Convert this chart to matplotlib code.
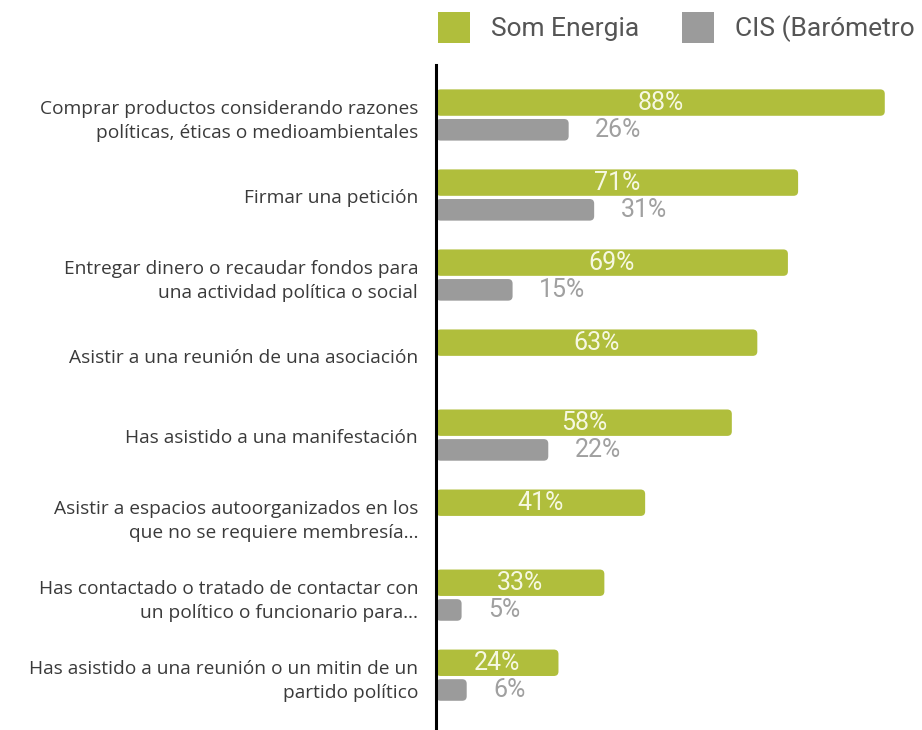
import matplotlib.pyplot as plt
from matplotlib.patches import FancyBboxPatch, Patch
import numpy as np

categorias = [
    'Comprar productos considerando razones\npolíticas, éticas o medioambientales',
    'Firmar una petición',
    'Entregar dinero o recaudar fondos para\nuna actividad política o social',
    'Asistir a una reunión de una asociación',
    'Has asistido a una manifestación',
    'Asistir a espacios autoorganizados en los\nque no se requiere membresía…',
    'Has contactado o tratado de contactar con\nun político o funcionario para…',
    'Has asistido a una reunión o un mitin de un\npartido político',
]
som_energia = [88, 71, 69, 63, 58, 41, 33, 24]
cis = [26, 31, 15, None, 22, None, 5, 6]
series = ['Som Energia', 'CIS (Barómetro']

VERDE = '#b0be3c'
GRIS = '#9b9b9b'

fig = plt.figure(figsize=(9.22, 7.3), dpi=100)
ax = fig.add_axes([0.473, 0.0, 0.527, 0.911])

y = np.arange(len(categorias))
y_verde = y - 0.17
y_gris = y + 0.17
cis_vals = np.array([np.nan if v is None else v for v in cis], dtype=float)


def barras_redondeadas(ax, ys, vals, h, color):
    # barh normal y luego se cambia por una caja redondeada
    bars = ax.barh(ys, np.nan_to_num(vals), height=h, color=color)
    for b, v in zip(bars, vals):
        b.set_visible(False)
        if np.isnan(v):
            continue
        p = FancyBboxPatch((b.get_x(), b.get_y()), b.get_width(), b.get_height(),
                           boxstyle='round,pad=0,rounding_size=0.9',
                           mutation_aspect=1 / 16, facecolor=color,
                           edgecolor='none', zorder=2)
        ax.add_patch(p)
    return bars


barras_redondeadas(ax, y_verde, np.array(som_energia, dtype=float), 0.33, VERDE)
barras_redondeadas(ax, y_gris, cis_vals, 0.27, GRIS)

# etiquetas de valores
for yy, v in zip(y_verde, som_energia):
    ax.text(v / 2, yy, f'{v}%', ha='center', va='center', color='#f6f8e2',
            fontsize=18, family='Roboto', zorder=3)
for yy, v in zip(y_gris, cis_vals):
    if np.isnan(v):
        continue
    ax.annotate(f'{int(v)}%', (v, yy), xytext=(19, 0), textcoords='offset points',
                ha='left', va='center', color='#a0a0a0', fontsize=18, family='Roboto')

ax.set_xlim(0, 95.3)
ax.set_ylim(7.67, -0.64)
ax.set_yticks(y)
ax.set_yticklabels(categorias, fontsize=13.8, family='Open Sans', color='#3a3a3a',
                   linespacing=1.42)
ax.tick_params(axis='y', length=0, pad=13)
ax.set_xticks([])
for s in ['top', 'right', 'bottom']:
    ax.spines[s].set_visible(False)
ax.spines['left'].set_linewidth(2.2)
ax.spines['left'].set_color('black')

handles = [Patch(facecolor=VERDE, edgecolor='none'), Patch(facecolor=GRIS, edgecolor='none')]
fig.legend(handles, series, loc='upper left', bbox_to_anchor=(0.449, 1.016), ncol=2,
           frameon=False, prop={'family': 'Roboto', 'size': 19},
           labelcolor='#555555', handlelength=1.22, handleheight=1.4,
           handletextpad=0.8, columnspacing=1.6)

fig.savefig('out.png', dpi=100)
